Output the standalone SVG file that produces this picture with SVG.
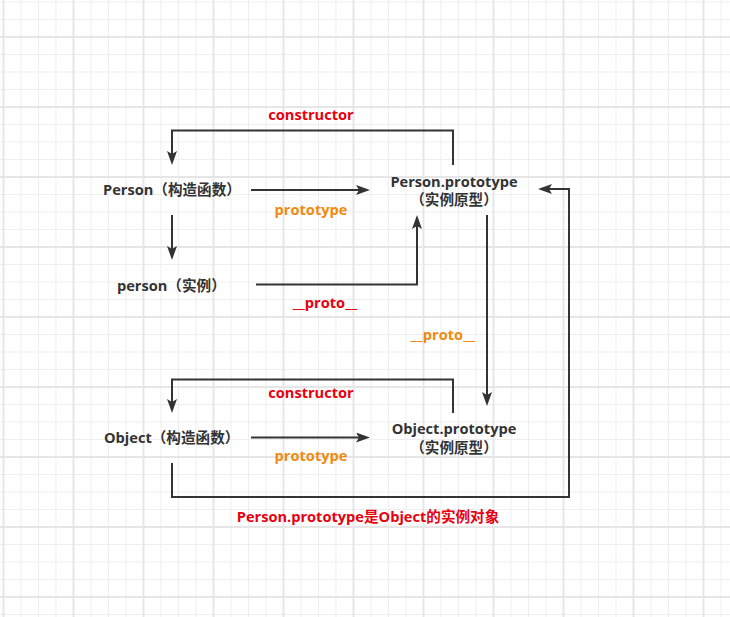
<svg xmlns="http://www.w3.org/2000/svg" width="730" height="617" viewBox="0 0 730 617">
  <style>
    .t { font-family: "Open Sans", "Noto Sans CJK SC", sans-serif; font-weight: bold; font-size: 14.6px; fill: #333333; }
    .red { fill: #e8000f; }
    .org { fill: #f08a10; }
    .mid { text-anchor: middle; }
    .edge { fill: none; stroke: #333333; stroke-width: 2; marker-end: url(#arr); }
  </style>
  <defs>
    <pattern id="minor" patternUnits="userSpaceOnUse" x="3" y="1.5" width="17.5" height="17.5">
      <rect x="0" y="0" width="1" height="17.5" fill="#eeeeee"/>
      <rect x="0" y="0" width="17.5" height="1" fill="#eeeeee"/>
    </pattern>
    <pattern id="major" patternUnits="userSpaceOnUse" x="2.5" y="36" width="70" height="70">
      <rect x="0" y="0" width="2" height="70" fill="#e6e6e6"/>
      <rect x="0" y="0" width="70" height="2" fill="#e6e6e6"/>
    </pattern>
    <marker id="arr" markerUnits="userSpaceOnUse" markerWidth="16" markerHeight="12" refX="10" refY="5" orient="auto">
      <path d="M0,0 L14,5 L0,10 L3,5 Z" fill="#333333"/>
    </marker>
  </defs>

  <rect width="730" height="617" fill="#ffffff"/>
  <rect width="730" height="617" fill="url(#minor)"/>
  <rect width="730" height="617" fill="url(#major)"/>

  <g id="connectors">
    <path class="edge" d="M453,165 V130.5 H172 V161"/>
    <path class="edge" d="M251,190 H366"/>
    <path class="edge" d="M172,215 V256"/>
    <path class="edge" d="M256,284.5 H417 V219"/>
    <path class="edge" d="M487,215 V402"/>
    <path class="edge" d="M453,413 V379.5 H172 V409"/>
    <path class="edge" d="M251,437.5 H366"/>
    <path class="edge" d="M172,463 V497 H569 V189 H542"/>
  </g>

  <g id="labels">
    <text class="t red mid" x="311" y="120">constructor</text>
    <text class="t org mid" x="311" y="215">prototype</text>
    <text class="t red mid" x="325" y="308">__proto__</text>
    <text class="t org mid" x="443" y="340">__proto__</text>
    <text class="t red mid" x="311" y="398">constructor</text>
    <text class="t org mid" x="311" y="460.5">prototype</text>
    <text class="t red mid" x="368" y="521.5">Person.prototype是Object的实例对象</text>
  </g>

  <g id="person-constructor">
    <text class="t" x="103" y="195">Person（构造函数）</text>
  </g>
  <g id="person-prototype">
    <text class="t mid" x="454" y="186.5">Person.prototype</text>
    <text class="t mid" x="454" y="205">（实例原型）</text>
  </g>
  <g id="person-instance">
    <text class="t" x="117" y="291">person（实例）</text>
  </g>
  <g id="object-constructor">
    <text class="t" x="104" y="443">Object（构造函数）</text>
  </g>
  <g id="object-prototype">
    <text class="t mid" x="454" y="434">Object.prototype</text>
    <text class="t mid" x="454" y="452.5">（实例原型）</text>
  </g>
</svg>
